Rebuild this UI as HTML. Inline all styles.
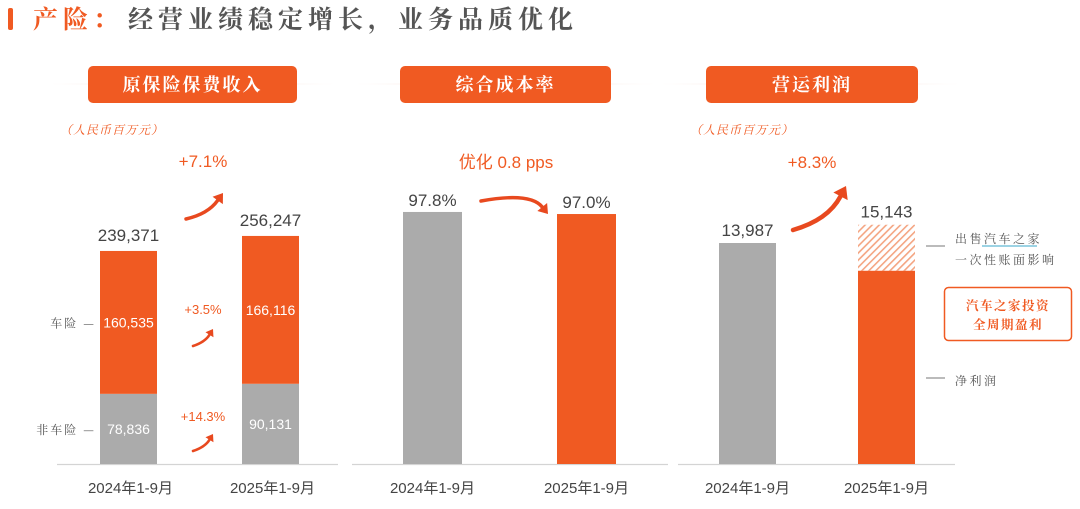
<!DOCTYPE html>
<html><head><meta charset="utf-8">
<style>
html,body{margin:0;padding:0;background:#fff;}
svg{display:block;font-family:"Liberation Sans","Noto Sans CJK SC",sans-serif;}
.cn{font-family:"Noto Serif CJK SC","Noto Sans CJK SC",serif;}
</style></head>
<body>
<svg id="chart" width="1080" height="509" viewBox="0 0 1080 509">
<defs>
<pattern id="hatch" width="5" height="5" patternUnits="userSpaceOnUse" patternTransform="rotate(45)">
<rect width="5" height="5" fill="#fff"/><rect width="1.6" height="5" fill="#F4A582"/></pattern>
<linearGradient id="hl" x1="0" x2="1"><stop offset="0" stop-color="#fbe3dc" stop-opacity="0"/><stop offset="0.5" stop-color="#f6c9bc"/><stop offset="1" stop-color="#fbe3dc" stop-opacity="0"/></linearGradient>
</defs>
<rect x="8" y="8" width="5" height="22" rx="2" fill="#F05A22"/>
<text class="cn" x="33" y="28" font-size="25" font-weight="bold" letter-spacing="5"><tspan fill="#F05A22">产险：</tspan><tspan fill="#555" x="128">经营业绩稳定增长，业务品质优化</tspan></text>

<g id="headers"></g>
<g id="p1"></g><g id="p2"></g><g id="p3"></g>
</svg>
<script>
const NS='http://www.w3.org/2000/svg';
const OR='#F05A22', GR='#ABABAB';
// data
const periods=['2024年1-9月','2025年1-9月'];
const motorPremium=[160535,166116];
const nonMotorPremium=[78836,90131];
const totalPremium=[239371,256247];
const premiumGrowth=['+7.1%','+3.5%','+14.3%'];
const combinedRatio=[97.8,97.0];
const ratioLabels=['97.8%','97.0%'];
const ratioChange='优化 0.8 pps';
const operatingProfit=[13987,15143];
const netProfitPart=[13987,12230];
const profitLabels=['13,987','15,143'];
const profitGrowth='+8.3%';
const panelTitles=['原保险保费收入','综合成本率','营运利润'];

function el(tag,attrs,parent,text){const e=document.createElementNS(NS,tag);for(const k in attrs)e.setAttribute(k,attrs[k]);if(text!==undefined)e.textContent=text;parent.appendChild(e);return e;}
const fmt=v=>v.toLocaleString('en-US');
const BASE=464;

// headers
const hd=document.getElementById('headers');
const hb=[[88,297,50,335],[400,611,355,655],[706,918,660,960]];
hb.forEach((b,i)=>{
  const l=el('rect',{x:b[2],y:83.5,width:b[3]-b[2],height:1,fill:'url(#hl)'},hd);
  
  
  const r=el('rect',{x:b[0],y:66,width:b[1]-b[0],height:37,rx:5,fill:OR},hd);
  
  
  const t=el('text',{x:(b[0]+b[1])/2,y:91,'text-anchor':'middle',fill:'#fff','font-size':18,'font-weight':'bold','letter-spacing':2,class:'cn'},hd,panelTitles[i]);
  
  
});

function axis(g,x1,x2){const a=el('line',{x1:x1,x2:x2,y1:BASE+0.5,y2:BASE+0.5,stroke:'#d4d4d4','stroke-width':1.2},g);
  
  }
function xlab(g,x,t){const e=el('text',{x:x,y:493,'text-anchor':'middle',fill:'#444','font-size':15},g,t);
  
  }
function txt(g,x,y,t,fill,size,name,anchor,cls){const e=el('text',{x:x,y:y,'text-anchor':anchor||'middle',fill:fill,'font-size':size},g,t);if(cls)e.setAttribute('class',cls);
  
  return e;}
function bar(g,x,y,w,h,fill,name){const r=el('rect',{x:x,y:y,width:w,height:h,fill:fill},g);
  
  return r;}
function arrow(g,x1,y1,cx,cy,x2,y2,sw){
  const ang=Math.atan2(y2-cy,x2-cx);const hl=sw*2.6,hw=sw*1.8;
  const bx=x2-Math.cos(ang)*hl,by=y2-Math.sin(ang)*hl;
  const p=el('path',{d:`M${x1},${y1} Q${cx},${cy} ${bx},${by}`,stroke:'#E8491F','stroke-width':sw,fill:'none','stroke-linecap':'round'},g);
  
  
  const nx=-Math.sin(ang),ny=Math.cos(ang);
  const h=el('polygon',{points:`${x2},${y2} ${bx+nx*hw},${by+ny*hw} ${bx-nx*hw},${by-ny*hw}`,fill:'#E8491F'},g);
  
  
}

// Panel 1
const g1=document.getElementById('p1');
const y1=v=>v*0.00089;
const x1=[100,242],bw1=57;
axis(g1,57,338);
const u1=txt(g1,60,134,'（人民币百万元）',OR,12,'unit-label','start','cn');
u1.setAttribute('font-style','italic');u1.setAttribute('letter-spacing','1');
periods.forEach((p,i)=>{
  const hn=y1(nonMotorPremium[i]),hm=y1(motorPremium[i]);
  bar(g1,x1[i],BASE-hn,bw1,hn,GR,'bar-non-motor');
  bar(g1,x1[i],BASE-hn-hm,bw1,hm,OR,'bar-motor');
  txt(g1,x1[i]+bw1/2,BASE-hn-hm-10,fmt(totalPremium[i]),'#444',17,'total-label');
  txt(g1,x1[i]+bw1/2,BASE-hn-hm/2+5,fmt(motorPremium[i]),'#fff',14,'motor-value');
  txt(g1,x1[i]+bw1/2,BASE-hn/2+5,fmt(nonMotorPremium[i]),'#fff',14,'non-motor-value');
  xlab(g1,x1[i]+bw1/2+2,p);
});
{const hn=y1(nonMotorPremium[0]),hm=y1(motorPremium[0]);
 txt(g1,96,BASE-hn-hm/2+5,'车险 —','#555',12,'legend-motor','end','cn').setAttribute('letter-spacing','2');
 txt(g1,96,BASE-hn/2+5,'非车险 —','#555',12,'legend-non-motor','end','cn').setAttribute('letter-spacing','2');}
txt(g1,203,167,premiumGrowth[0],OR,17,'growth-total');
txt(g1,203,314,premiumGrowth[1],OR,13,'growth-motor');
txt(g1,203,421,premiumGrowth[2],OR,13,'growth-non-motor');
arrow(g1,186,219,208,214,223,193,3.5);
arrow(g1,193,346,205,342,213,329,2.6);
arrow(g1,193,451,205,447,213,434,2.6);

// Panel 2
const g2=document.getElementById('p2');
const y2=v=>v*2.577;
const x2=[403,557],bw2=59;
axis(g2,352,668);
combinedRatio.forEach((v,i)=>{
  const h=y2(v);
  bar(g2,x2[i],BASE-h,bw2,h,i?OR:GR,'bar-combined-ratio');
  txt(g2,x2[i]+bw2/2,BASE-h-6,ratioLabels[i],'#444',17,'ratio-label');
  xlab(g2,x2[i]+bw2/2,periods[i]);
});
txt(g2,506,168,ratioChange,OR,17,'ratio-change');
arrow(g2,481,201,530,192,548,214,3.5);

// Panel 3
const g3=document.getElementById('p3');
const y3=v=>v*0.0158;
const x3=[719,858],bw3=57;
axis(g3,678,955);
const u3=txt(g3,690,134,'（人民币百万元）',OR,12,'unit-label','start','cn');
u3.setAttribute('font-style','italic');u3.setAttribute('letter-spacing','1');
operatingProfit.forEach((v,i)=>{
  const h=y3(v),hn=y3(netProfitPart[i]);
  if(i===0){bar(g3,x3[i],BASE-h,bw3,h,GR,'bar-operating-profit');}
  else{bar(g3,x3[i],BASE-h,bw3,h-hn,'url(#hatch)','bar-one-off-gain');
       bar(g3,x3[i],BASE-hn,bw3,hn,OR,'bar-net-profit');}
  txt(g3,x3[i]+bw3/2,BASE-h-7,profitLabels[i],'#444',17,'profit-label');
  xlab(g3,x3[i]+bw3/2,periods[i]);
});
txt(g3,812,168,profitGrowth,OR,17,'profit-growth');
arrow(g3,793,230,828,220,846,186,4.5);
const d1=el('line',{x1:926,x2:945,y1:246,y2:246,stroke:'#777','stroke-width':1},g3);


txt(g3,955,243,'出售汽车之家','#555',12,'legend-one-off','start','cn').setAttribute('letter-spacing','2.5');
const ul=el('line',{x1:982,x2:1037,y1:246,y2:246,stroke:'#3aa7c9','stroke-width':1},g3);


txt(g3,955,264,'一次性账面影响','#555',12,'legend-one-off-line2','start','cn').setAttribute('letter-spacing','2.5');
const bx=el('rect',{x:944.5,y:287.5,width:127,height:53,rx:4,fill:'#fff',stroke:OR,'stroke-width':1.5},g3);


const c1=txt(g3,1008,310,'汽车之家投资',OR,12.5,'callout-line1','middle','cn');c1.setAttribute('font-weight','bold');c1.setAttribute('letter-spacing','1.5');
const c2=txt(g3,1008,329,'全周期盈利',OR,12.5,'callout-line2','middle','cn');c2.setAttribute('font-weight','bold');c2.setAttribute('letter-spacing','1.5');
const d2=el('line',{x1:926,x2:945,y1:378,y2:378,stroke:'#777','stroke-width':1},g3);


txt(g3,955,385,'净利润','#555',12,'legend-net-profit','start','cn').setAttribute('letter-spacing','2.5');
</script>
</body></html>
